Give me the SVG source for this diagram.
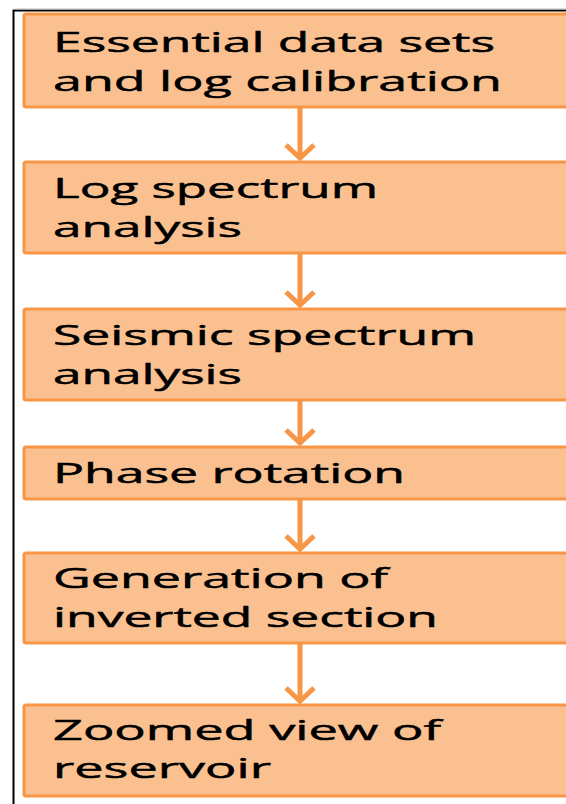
<svg xmlns="http://www.w3.org/2000/svg" width="566" height="804" viewBox="0 0 566 804">
<style>
.box{fill:#FAC090;stroke:#F79646;stroke-width:3}
.lbl{font-family:"Open Sans","Liberation Sans",sans-serif;font-size:28px;fill:#000;stroke:#000;stroke-width:0.5}
.arr{stroke:#F79646;stroke-width:5;fill:none}
</style>
<defs>
<marker id="chev" markerUnits="userSpaceOnUse" viewBox="-20 -20 40 40" markerWidth="40" markerHeight="40" refX="0" refY="0" orient="auto" overflow="visible">
<path d="M-13,-14 L0,0 L-13,14" fill="none" stroke="#F79646" stroke-width="5" stroke-linejoin="miter"/>
</marker>
</defs>
<rect width="566" height="804" fill="#fff"/>
<path d="M13.5,804 V10.5 H566" fill="none" stroke="#000" stroke-width="2"/>
<path d="M14.5,9 H566" fill="none" stroke="#bbb" stroke-width="1"/>
<g id="connectors">
<path class="arr" d="M300,108 V158" marker-end="url(#chev)"/>
<path class="arr" d="M300,254 V305" marker-end="url(#chev)"/>
<path class="arr" d="M300,401 V443" marker-end="url(#chev)"/>
<path class="arr" d="M300,500 V549" marker-end="url(#chev)"/>
<path class="arr" d="M300,644 V701" marker-end="url(#chev)"/>
</g>
<g id="n1"><rect class="box" x="24" y="14" width="560" height="93" rx="2"/>
<text class="lbl" x="53" y="52" textLength="442" lengthAdjust="spacingAndGlyphs">Essential data sets</text>
<text class="lbl" x="53" y="91" textLength="449" lengthAdjust="spacingAndGlyphs">and log calibration</text></g>
<g id="n2"><rect class="box" x="24" y="162" width="560" height="91" rx="2"/>
<text class="lbl" x="53" y="198" textLength="325" lengthAdjust="spacingAndGlyphs">Log spectrum</text>
<text class="lbl" x="53" y="237" textLength="189" lengthAdjust="spacingAndGlyphs">analysis</text></g>
<g id="n3"><rect class="box" x="24" y="309" width="560" height="91" rx="2"/>
<text class="lbl" x="53" y="345" textLength="423" lengthAdjust="spacingAndGlyphs">Seismic spectrum</text>
<text class="lbl" x="53" y="384" textLength="189" lengthAdjust="spacingAndGlyphs">analysis</text></g>
<g id="n4"><rect class="box" x="24" y="447" width="560" height="52" rx="2"/>
<text class="lbl" x="53" y="483" textLength="352" lengthAdjust="spacingAndGlyphs">Phase rotation</text></g>
<g id="n5"><rect class="box" x="24" y="553" width="560" height="90" rx="2"/>
<text class="lbl" x="53" y="588" textLength="335" lengthAdjust="spacingAndGlyphs">Generation of</text>
<text class="lbl" x="53" y="627" textLength="385" lengthAdjust="spacingAndGlyphs">inverted section</text></g>
<g id="n6"><rect class="box" x="24" y="705" width="560" height="91" rx="2"/>
<text class="lbl" x="53" y="740" textLength="388" lengthAdjust="spacingAndGlyphs">Zoomed view of</text>
<text class="lbl" x="53" y="778" textLength="218" lengthAdjust="spacingAndGlyphs">reservoir</text></g>
</svg>
